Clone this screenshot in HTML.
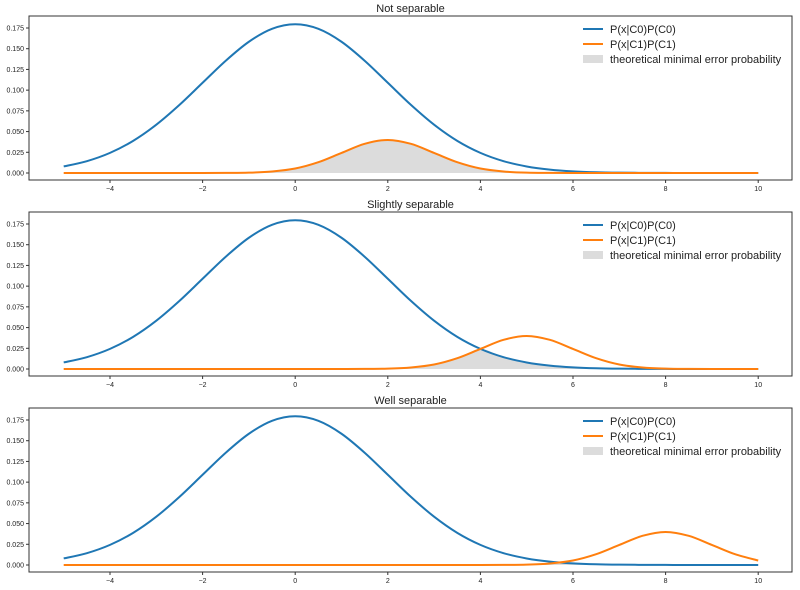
<!DOCTYPE html>
<html><head><meta charset="utf-8"><style>
body{margin:0;background:#fff;}
svg{display:block;font-family:"Liberation Sans","DejaVu Sans",sans-serif;}
</style></head><body>
<svg id="fig" width="800" height="590"></svg>
<script>
const xs=[];for(let i=0;i<=30;i++)xs.push(-5+i*0.5);
const blueVals=[0.0079,0.0143,0.0243,0.0388,0.0583,0.0822,0.1089,0.1355,0.1584,0.1740,0.1795,0.1740,0.1584,0.1355,0.1089,0.0822,0.0583,0.0388,0.0243,0.0143,0.0079,0.0041,0.0020,0.0009,0.0004,0.0002,0.0001,0,0,0,0];
const orangeShape=[0.0399,0.0352,0.0242,0.0130,0.0054,0.0018,0.0004,0.0001,0];
const orangeMeans=[2,5,8];
const titles=["Not separable","Slightly separable","Well separable"];
const xTicks=[-4,-2,0,2,4,6,8,10];
const yTicks=[0,0.025,0.05,0.075,0.1,0.125,0.15,0.175];
const yTickLabels=["0.000","0.025","0.050","0.075","0.100","0.125","0.150","0.175"];
const legendLabels=["P(x|C0)P(C0)","P(x|C1)P(C1)","theoretical minimal error probability"];

const NS="http://www.w3.org/2000/svg";
const svg=document.getElementById('fig');
function mk(t,a,p){const e=document.createElementNS(NS,t);for(const k in a)e.setAttribute(k,a[k]);(p||svg).appendChild(e);return e;}
function orangeAt(mu){return xs.map(x=>{const d=Math.abs(x-mu);const i=Math.round(d*2);return i<orangeShape.length?orangeShape[i]:0;});}
function smooth(pts){let d=`M${pts[0][0]},${pts[0][1]}`;for(let i=0;i<pts.length-1;i++){const p0=pts[Math.max(0,i-1)],p1=pts[i],p2=pts[i+1],p3=pts[Math.min(pts.length-1,i+2)];
const c1=[p1[0]+(p2[0]-p0[0])/6,p1[1]+(p2[1]-p0[1])/6],c2=[p2[0]-(p3[0]-p1[0])/6,p2[1]-(p3[1]-p1[1])/6];
d+=`C${c1[0]},${c1[1]} ${c2[0]},${c2[1]} ${p2[0]},${p2[1]}`;}return d;}
const L=29,R=792,X0=63.7,XS=46.3;
titles.forEach((title,k)=>{
 const off=k*196,top=16+off,bot=180+off,y0=173+off,YS=828.6;
 const sx=x=>X0+(x+5)*XS, sy=v=>y0-v*YS;
 const g=mk('g',{});
 
 
 const t=mk('text',{x:(L+R)/2,y:top-4,'text-anchor':'middle','font-size':11,fill:'#222'},g);t.textContent=title;
 
 const orange=orangeAt(orangeMeans[k]);
 const mins=xs.map((x,i)=>Math.min(blueVals[i],orange[i]));
 const minPts=xs.map((x,i)=>[sx(x),sy(mins[i])]);
 const fill=mk('path',{d:smooth(minPts)+`L${sx(10)},${sy(0)}L${sx(-5)},${sy(0)}Z`,fill:'#dcdcdc',stroke:'none'},g);
 
 const b=mk('path',{d:smooth(xs.map((x,i)=>[sx(x),sy(blueVals[i])])),fill:'none',stroke:'#1f77b4','stroke-width':2},g);
 
 const o=mk('path',{d:smooth(xs.map((x,i)=>[sx(x),sy(orange[i])])),fill:'none',stroke:'#ff7f0e','stroke-width':2},g);
 
 const fr=mk('rect',{x:L,y:top,width:R-L,height:bot-top,fill:'none',stroke:'#333','stroke-width':1},g);
 
 xTicks.forEach(v=>{mk('line',{x1:sx(v),x2:sx(v),y1:bot,y2:bot+3,stroke:'#333'},g);
  const tt=mk('text',{x:sx(v),y:bot+11,'text-anchor':'middle','font-size':7,fill:'#222'},g);tt.textContent=v<0?'\u2212'+(-v):v;
  });
 yTicks.forEach((v,i)=>{mk('line',{x1:L-3,x2:L,y1:sy(v),y2:sy(v),stroke:'#333'},g);
  const tt=mk('text',{x:L-5,y:sy(v)+2.5,'text-anchor':'end','font-size':7,fill:'#222'},g);tt.textContent=yTickLabels[i];
  });
 const lg=mk('g',{},g);
 const cols=['#1f77b4','#ff7f0e'];
 legendLabels.forEach((lab,i)=>{const ly=29+off+i*15;
  if(i<2)mk('line',{x1:583,x2:603,y1:ly,y2:ly,stroke:cols[i],'stroke-width':2},lg);
  else mk('rect',{x:583,y:ly-4,width:20,height:8,fill:'#dcdcdc'},lg);
  const tt=mk('text',{x:610,y:ly+4,'font-size':11,fill:'#222'},lg);tt.textContent=lab;
  });
});
</script></body></html>
